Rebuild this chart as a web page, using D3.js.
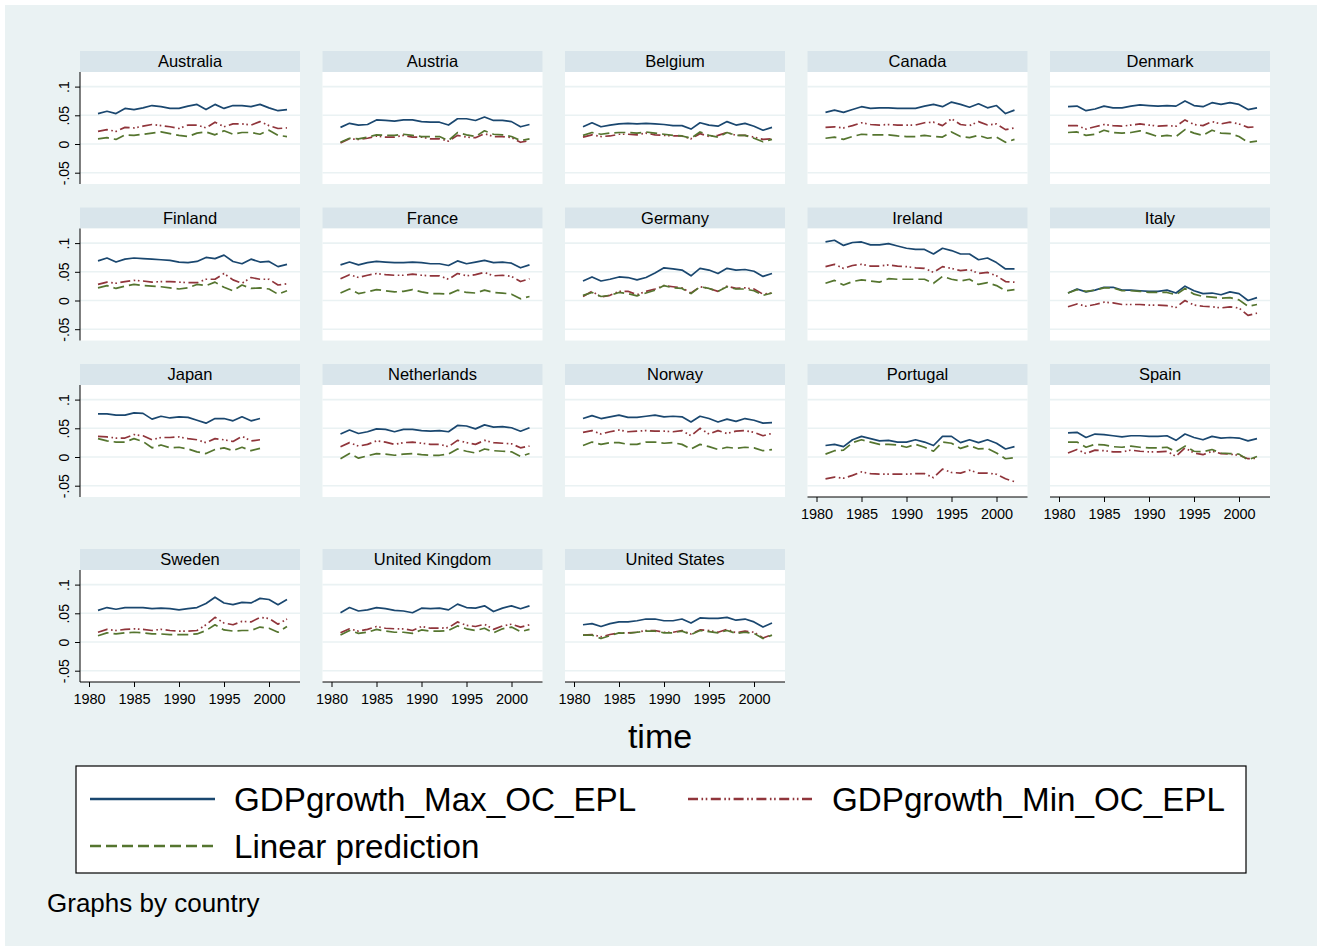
<!DOCTYPE html>
<html><head><meta charset="utf-8">
<script src="https://cdn.jsdelivr.net/npm/d3@7"></script>
<style>body{margin:0;background:#fff}svg{display:block;font-family:"Liberation Sans",Arial,sans-serif}</style>
</head><body><svg id="c" width="1325" height="952"></svg>
<script>
const years = [1981,1982,1983,1984,1985,1986,1987,1988,1989,1990,1991,1992,1993,1994,1995,1996,1997,1998,1999,2000,2001,2002];
const countries = ["Australia","Austria","Belgium","Canada","Denmark","Finland","France","Germany","Ireland","Italy","Japan","Netherlands","Norway","Portugal","Spain","Sweden","United Kingdom","United States"];
const seriesNames = ["GDPgrowth_Max_OC_EPL","GDPgrowth_Min_OC_EPL","Linear prediction"];
const yTicks = [-0.05, 0, 0.05, 0.1];
const yTickLabels = ["-.05","0",".05",".1"];
const xTicks = [1980,1985,1990,1995,2000];

const maxOC = [
 [.053,.057,.053,.062,.060,.063,.067,.065,.062,.062,.066,.069,.060,.069,.062,.067,.067,.065,.069,.063,.058,.060],
 [.029,.036,.033,.034,.042,.041,.040,.042,.042,.039,.038,.038,.033,.044,.044,.041,.047,.041,.041,.039,.030,.034],
 [.030,.037,.030,.033,.035,.036,.035,.036,.035,.034,.032,.032,.026,.037,.033,.031,.039,.033,.036,.031,.024,.029],
 [.055,.059,.055,.060,.065,.062,.063,.063,.062,.062,.062,.066,.069,.065,.073,.069,.064,.070,.063,.067,.053,.059],
 [.065,.066,.058,.061,.066,.063,.063,.066,.068,.067,.066,.067,.066,.075,.067,.065,.072,.069,.072,.069,.060,.063],
 [.069,.074,.067,.072,.074,.073,.072,.071,.070,.067,.066,.068,.075,.073,.079,.068,.064,.072,.067,.068,.059,.063],
 [.062,.067,.062,.066,.068,.067,.066,.066,.067,.066,.064,.064,.061,.069,.064,.067,.070,.066,.067,.065,.057,.062],
 [.034,.041,.034,.037,.041,.040,.036,.040,.048,.057,.055,.053,.043,.056,.053,.047,.056,.053,.054,.051,.042,.047],
 [.102,.105,.096,.101,.102,.097,.097,.099,.095,.091,.089,.089,.081,.091,.087,.081,.081,.071,.074,.066,.055,.055],
 [.013,.020,.015,.018,.023,.023,.018,.018,.017,.016,.016,.018,.013,.025,.017,.012,.013,.010,.015,.012,.000,.005],
 [.075,.075,.073,.073,.077,.076,.066,.071,.068,.070,.069,.064,.059,.067,.067,.063,.070,.063,.067,null,null,null],
 [.040,.047,.041,.044,.049,.048,.044,.048,.048,.046,.045,.046,.044,.055,.054,.049,.056,.052,.053,.051,.045,.051],
 [.067,.072,.067,.070,.073,.069,.069,.071,.073,.070,.071,.070,.061,.071,.067,.061,.066,.062,.067,.064,.059,.060],
 [.020,.022,.018,.030,.036,.032,.028,.029,.026,.026,.030,.026,.020,.036,.036,.025,.030,.025,.030,.024,.014,.018],
 [.042,.043,.034,.040,.039,.037,.035,.037,.037,.036,.036,.037,.029,.040,.034,.030,.036,.033,.034,.033,.028,.032],
 [.055,.060,.057,.060,.060,.060,.058,.059,.058,.056,.058,.060,.067,.078,.068,.065,.069,.068,.076,.074,.065,.074],
 [.051,.060,.054,.056,.060,.058,.055,.054,.051,.059,.058,.059,.056,.066,.060,.059,.063,.053,.059,.063,.058,.063],
 [.030,.032,.027,.032,.035,.035,.037,.040,.040,.037,.037,.040,.033,.042,.041,.041,.043,.038,.040,.035,.026,.033]
];
const minOC = [
 [.022,.025,.022,.029,.028,.031,.034,.032,.030,.027,.033,.033,.028,.038,.030,.035,.035,.033,.039,.032,.027,.028],
 [.002,.009,.008,.010,.014,.012,.012,.015,.012,.012,.009,.009,.005,.015,.012,.011,.018,.013,.013,.011,.003,.006],
 [.012,.016,.013,.014,.017,.017,.016,.019,.016,.015,.014,.014,.009,.018,.013,.015,.020,.015,.015,.012,.008,.009],
 [.029,.030,.028,.032,.037,.034,.033,.034,.033,.033,.033,.037,.038,.032,.044,.034,.032,.039,.033,.035,.025,.028],
 [.032,.032,.026,.030,.034,.032,.031,.033,.035,.033,.031,.032,.031,.042,.034,.032,.039,.035,.038,.035,.029,.030],
 [.028,.032,.030,.033,.035,.034,.032,.033,.033,.032,.031,.031,.037,.037,.047,.036,.030,.040,.037,.037,.027,.029],
 [.038,.045,.040,.044,.047,.045,.044,.044,.046,.044,.043,.043,.037,.047,.043,.045,.049,.043,.044,.042,.033,.038],
 [.007,.016,.006,.009,.016,.016,.010,.016,.020,.026,.024,.022,.013,.024,.021,.016,.025,.021,.022,.020,.011,.013],
 [.059,.063,.056,.061,.063,.060,.060,.062,.060,.059,.057,.056,.049,.059,.056,.052,.054,.047,.049,.043,.033,.032],
 [-.011,-.006,-.010,-.007,-.003,-.004,-.007,-.007,-.007,-.008,-.008,-.009,-.012,.000,-.008,-.010,-.011,-.013,-.011,-.013,-.026,-.022],
 [.036,.035,.033,.033,.039,.037,.030,.034,.034,.035,.032,.030,.025,.032,.030,.027,.036,.028,.030,null,null,null],
 [.018,.025,.019,.022,.028,.026,.022,.025,.026,.024,.022,.022,.018,.029,.025,.022,.029,.025,.024,.023,.016,.019],
 [.043,.046,.040,.044,.047,.044,.045,.046,.045,.045,.044,.046,.037,.050,.040,.046,.041,.045,.046,.043,.037,.041],
 [-.038,-.035,-.037,-.032,-.026,-.029,-.030,-.030,-.030,-.030,-.029,-.029,-.036,-.021,-.027,-.028,-.023,-.028,-.028,-.030,-.038,-.043],
 [.007,.013,.006,.012,.011,.009,.009,.012,.010,.009,.009,.010,.001,.016,.007,.004,.010,.006,.005,.003,-.003,-.002],
 [.017,.022,.020,.022,.023,.022,.020,.022,.020,.019,.019,.020,.030,.043,.033,.030,.036,.035,.043,.041,.031,.040],
 [.016,.023,.019,.022,.027,.024,.023,.023,.020,.027,.024,.024,.025,.035,.029,.027,.031,.022,.028,.031,.026,.030],
 [.012,.013,.009,.013,.016,.016,.017,.020,.020,.017,.017,.020,.014,.021,.020,.017,.022,.016,.019,.017,.007,.013]
];
const linPred = [
 [.009,.011,.008,.016,.015,.017,.019,.021,.018,.015,.013,.019,.021,.016,.023,.017,.020,.020,.017,.024,.015,.013],
 [.003,.010,.009,.012,.016,.015,.015,.017,.015,.013,.013,.013,.006,.020,.016,.013,.023,.017,.016,.013,.006,.009],
 [.015,.020,.017,.019,.020,.020,.019,.021,.019,.017,.015,.014,.010,.021,.015,.012,.020,.015,.015,.010,.004,.008],
 [.010,.012,.008,.013,.017,.016,.016,.016,.014,.013,.013,.015,.013,.012,.021,.013,.011,.015,.010,.012,.003,.008],
 [.020,.021,.015,.017,.024,.020,.019,.020,.023,.018,.013,.015,.013,.025,.019,.015,.024,.019,.018,.013,.003,.005],
 [.022,.026,.021,.025,.028,.026,.025,.024,.022,.020,.022,.028,.026,.032,.023,.017,.027,.021,.022,.020,.011,.017],
 [.013,.020,.012,.015,.019,.017,.015,.016,.019,.015,.012,.012,.011,.018,.014,.013,.018,.014,.013,.011,.003,.007],
 [.009,.014,.007,.009,.014,.012,.008,.013,.018,.026,.022,.021,.012,.024,.021,.016,.024,.020,.020,.017,.009,.013],
 [.030,.035,.027,.033,.036,.034,.032,.038,.037,.037,.037,.037,.030,.042,.037,.034,.037,.028,.031,.026,.017,.019],
 [.013,.019,.016,.018,.022,.022,.017,.017,.016,.014,.014,.014,.010,.021,.011,.007,.006,.004,.005,.001,-.010,-.007],
 [.032,.028,.026,.026,.032,.027,.016,.021,.016,.017,.014,.009,.006,.013,.016,.011,.017,.011,.015,null,null,null],
 [-.003,.006,-.002,.002,.006,.005,.003,.005,.006,.004,.003,.003,.005,.014,.010,.007,.014,.011,.010,.009,.001,.006],
 [.020,.026,.022,.025,.025,.022,.022,.026,.026,.024,.025,.022,.014,.022,.018,.013,.017,.015,.017,.016,.011,.013],
 [.005,.011,.012,.025,.030,.026,.022,.022,.021,.017,.022,.017,.010,.026,.024,.015,.020,.014,.015,.007,-.003,-.001],
 [.026,.026,.017,.022,.021,.018,.017,.019,.017,.016,.016,.017,.009,.019,.010,.009,.013,.007,.006,.005,-.005,.001],
 [.011,.016,.014,.016,.017,.016,.014,.014,.013,.013,.013,.014,.020,.030,.021,.019,.020,.020,.026,.024,.017,.027],
 [.012,.020,.015,.017,.022,.019,.017,.017,.015,.021,.019,.019,.020,.028,.023,.020,.024,.016,.023,.026,.018,.022],
 [.012,.012,.006,.011,.016,.015,.017,.019,.019,.016,.016,.019,.013,.020,.018,.016,.020,.015,.017,.015,.006,.012]
];

const colors = ["#1a476f","#90353b","#55752f"];
const dashes = [null, "10,3.5,1.6,2.6,1.6,3.5", "11,5"];
const seriesData = [maxOC, minOC, linPred];

const svg = d3.select("#c");
svg.append("rect").attr("x",5).attr("y",5).attr("width",1312).attr("height",941).attr("fill","#eaf2f3");

const nCols = 5, panelW = 220, headerH = 21, plotH = 112;
const colLeft = c => 80 + c*242.5;
const rowTops = [51, 207.5, 364, 549];

const x = d3.scaleLinear().domain([1979, 1979 + 220/9]).range([0, panelW]);
const y = d3.scaleLinear().domain([-40/574, 72/574]).range([plotH, 0]);

countries.forEach((name, i) => {
  const c = i % nCols, r = Math.floor(i / nCols);
  const g = svg.append("g").attr("transform", `translate(${colLeft(c)},${rowTops[r]})`);
  g.append("rect").attr("width", panelW).attr("height", headerH).attr("fill", "#d9e5eb");
  g.append("text").attr("x", panelW/2).attr("y", 16).attr("text-anchor","middle")
    .attr("font-size", 16.5).attr("fill","#000").text(name);
  const p = g.append("g").attr("transform", `translate(0,${headerH})`);
  p.append("rect").attr("width", panelW).attr("height", plotH).attr("fill", "#fff");
  p.selectAll("line.grid").data(yTicks).join("line").attr("class","grid")
    .attr("x1",0).attr("x2",panelW).attr("y1",d=>y(d)).attr("y2",d=>y(d))
    .attr("stroke","#eaf2f3").attr("stroke-width",1.6);
  seriesData.forEach((sd, s) => {
    const line = d3.line().defined(d => d[1] !== null).x(d => x(d[0])).y(d => y(d[1]));
    const pts = years.map((yr, k) => [yr, sd[i][k]]);
    const path = p.append("path").attr("d", line(pts)).attr("fill","none")
      .attr("stroke", colors[s]).attr("stroke-width", 1.7).attr("stroke-linejoin","round");
    if (dashes[s]) path.attr("stroke-dasharray", dashes[s]);
  });
  if (c === 0) {
    const ya = p.append("g").call(d3.axisLeft(y).tickValues(yTicks).tickSize(5).tickFormat((d,k)=>yTickLabels[k]));
    ya.select(".domain").attr("d", `M0,0V${plotH}`).attr("stroke","#000");
    ya.selectAll(".tick line").attr("stroke","#000");
    ya.selectAll(".tick text").attr("font-size",14).attr("font-family","Liberation Sans, Arial, sans-serif")
      .attr("fill","#000").attr("transform","rotate(-90)").attr("x",0).attr("y",-11).attr("dy",0)
      .attr("text-anchor","middle");
  }
  if (i + nCols >= countries.length) {
    const xa = p.append("g").attr("transform", `translate(0,${plotH})`)
      .call(d3.axisBottom(x).tickValues(xTicks).tickSize(5).tickFormat(d3.format("d")));
    xa.select(".domain").attr("d", `M0,0H${panelW}`).attr("stroke","#000");
    xa.selectAll(".tick line").attr("stroke","#000");
    xa.selectAll(".tick text").attr("font-size",14.5).attr("font-family","Liberation Sans, Arial, sans-serif")
      .attr("fill","#000").attr("y",12).attr("dy","0.71em");
  }
});

svg.append("text").attr("x",660).attr("y",748).attr("text-anchor","middle").attr("font-size",34).attr("fill","#000").text("time");

// legend
const lg = svg.append("g");
lg.append("rect").attr("x",76).attr("y",766).attr("width",1170).attr("height",107).attr("fill","#fff").attr("stroke","#000").attr("stroke-width",1.2);
const legendPos = [[90,799],[688,799],[90,846]];
seriesNames.forEach((nm, s) => {
  const [lx, ly] = legendPos[s];
  const ln = lg.append("line").attr("x1",lx).attr("x2",lx+125).attr("y1",ly).attr("y2",ly)
    .attr("stroke",colors[s]).attr("stroke-width",2.4);
  if (dashes[s]) ln.attr("stroke-dasharray", dashes[s]);
  lg.append("text").attr("x",lx+144).attr("y",ly+12).attr("font-size",33.2).attr("fill","#000").text(nm);
});

svg.append("text").attr("x",47).attr("y",912).attr("font-size",26).attr("fill","#000").text("Graphs by country");
</script></body></html>
